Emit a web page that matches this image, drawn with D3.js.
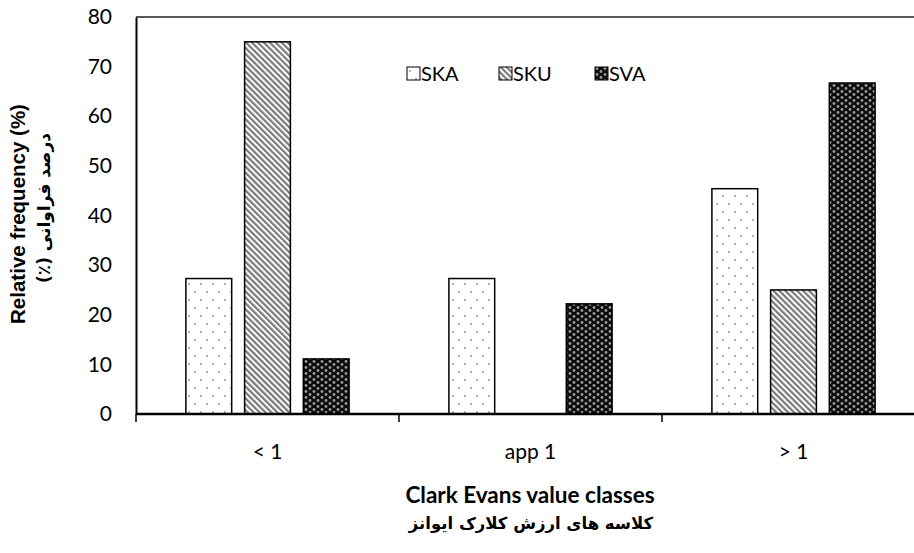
<!DOCTYPE html>
<html><head><meta charset="utf-8">
<script src="https://cdn.jsdelivr.net/npm/d3@7"></script>
<style>body{margin:0;background:#fff}svg{display:block}</style>
</head><body>
<svg id="c" width="914" height="553"></svg>
<script>
const categories = ["< 1", "app 1", "> 1"];
const seriesNames = ["SKA", "SKU", "SVA"];
const SKA = [27.3, 27.3, 45.4];
const SKU = [75, 0, 25];
const SVA = [11.1, 22.2, 66.7];
const yTicks = [0, 10, 20, 30, 40, 50, 60, 70, 80];
const yTitle = "Relative frequency (%)";
const yTitleFa = "درصد فراوانی (٪)";
const xTitle = "Clark Evans value classes";
const xTitleFa = "کلاسه های ارزش کلارک ایوانز";

const svg = d3.select("#c");
const font = "Lato, 'Open Sans', sans-serif";
const m = {l:136, t:17, r:925, b:414};

const defs = svg.append("defs");
// SKA: white with sparse gray dots
const p1 = defs.append("pattern").attr("id","pSKA").attr("patternUnits","userSpaceOnUse")
  .attr("width",12).attr("height",16);
p1.append("rect").attr("width",12).attr("height",16).attr("fill","#fff");
p1.append("circle").attr("cx",3).attr("cy",4).attr("r",1).attr("fill","#999");
p1.append("circle").attr("cx",9).attr("cy",12).attr("r",1).attr("fill","#999");
// SKU: diagonal stripes
const p2 = defs.append("pattern").attr("id","pSKU").attr("patternUnits","userSpaceOnUse")
  .attr("width",4.2).attr("height",4.2).attr("patternTransform","rotate(-45)");
p2.append("rect").attr("width",4.2).attr("height",4.2).attr("fill","#fff");
p2.append("rect").attr("x",0).attr("width",2.2).attr("height",4.2).attr("fill","#7a7a7a");
// SVA: black with gray dots
const p3 = defs.append("pattern").attr("id","pSVA").attr("patternUnits","userSpaceOnUse")
  .attr("width",8).attr("height",6);
p3.append("rect").attr("width",8).attr("height",6).attr("fill","#0d0d0d");
p3.append("circle").attr("cx",2).attr("cy",1.5).attr("r",1.4).attr("fill","#999");
p3.append("circle").attr("cx",6).attr("cy",4.5).attr("r",1.4).attr("fill","#999");
const fills = {SKA:"url(#pSKA)", SKU:"url(#pSKU)", SVA:"url(#pSVA)"};

const x = d3.scaleBand().domain(categories).range([m.l, m.r]).paddingInner(0).paddingOuter(0);
const xs = d3.scaleBand().domain(seriesNames).range([0, x.bandwidth()]).paddingInner(0.22).paddingOuter(0.85);
const y = d3.scaleLinear().domain([0, 80]).range([m.b, m.t]);

// top border line
svg.append("line").attr("x1",m.l).attr("x2",914).attr("y1",m.t).attr("y2",m.t)
  .attr("stroke","#222").attr("stroke-width",1.5);

const data = {SKA, SKU, SVA};
seriesNames.forEach(s => {
  svg.append("g").selectAll("rect").data(categories.map((c,i)=>({c, v:data[s][i]})))
    .join("rect")
    .filter(d => d.v > 0)
    .attr("x", d => x(d.c) + xs(s))
    .attr("y", d => y(d.v))
    .attr("width", xs.bandwidth())
    .attr("height", d => y(0) - y(d.v))
    .attr("fill", fills[s]).attr("stroke","#000").attr("stroke-width",1.5);
});

// y axis
const ya = svg.append("g").attr("transform",`translate(${m.l},0)`)
  .call(d3.axisLeft(y).tickValues(yTicks).tickSize(0).tickPadding(24));
ya.select(".domain").attr("stroke","#000").attr("stroke-width",2);
ya.selectAll("text").attr("font-family",font).attr("font-size",21).attr("fill","#000");

// x axis
const xa = svg.append("g").attr("transform",`translate(0,${m.b})`)
  .call(d3.axisBottom(x).tickSize(0).tickPadding(30));
xa.select(".domain").remove();
xa.selectAll("text").attr("font-family",font).attr("font-size",21).attr("fill","#000");
svg.append("line").attr("x1",m.l).attr("x2",914).attr("y1",m.b).attr("y2",m.b)
  .attr("stroke","#000").attr("stroke-width",2.5);
svg.append("g").selectAll("line").data(categories).join("line")
  .attr("x1",d=>x(d)).attr("x2",d=>x(d)).attr("y1",m.b).attr("y2",m.b+8)
  .attr("stroke","#000").attr("stroke-width",1.5);

// titles
svg.append("text").attr("transform","translate(25,214) rotate(-90)").attr("text-anchor","middle")
  .attr("font-family","'Liberation Sans', Arial, sans-serif").attr("font-weight","bold").attr("font-size",20.5).text(yTitle);
svg.append("text").attr("transform","translate(50,208) rotate(-90)").attr("text-anchor","middle")
  .attr("font-family","'DejaVu Sans', sans-serif").attr("font-weight","bold").attr("font-size",17)
  .attr("direction","rtl").text(yTitleFa);
svg.append("text").attr("x",530).attr("y",503).attr("text-anchor","middle")
  .attr("font-family",font).attr("font-weight","bold").attr("font-size",22.5).text(xTitle);
svg.append("text").attr("x",531).attr("y",529).attr("text-anchor","middle")
  .attr("font-family","'DejaVu Sans', sans-serif").attr("font-weight","bold").attr("font-size",16.5)
  .attr("direction","rtl").text(xTitleFa);

// legend
const lx = [407, 499, 595];
const lg = svg.append("g").selectAll("g").data(seriesNames).join("g")
  .attr("transform",(d,i)=>`translate(${lx[i]},67)`);
lg.append("rect").attr("width",13).attr("height",13).attr("fill",d=>fills[d])
  .attr("stroke","#000").attr("stroke-width",1);
lg.append("text").attr("x",14).attr("y",14).attr("font-family",font).attr("font-size",20)
  .text(d=>d);
</script>
</body></html>
